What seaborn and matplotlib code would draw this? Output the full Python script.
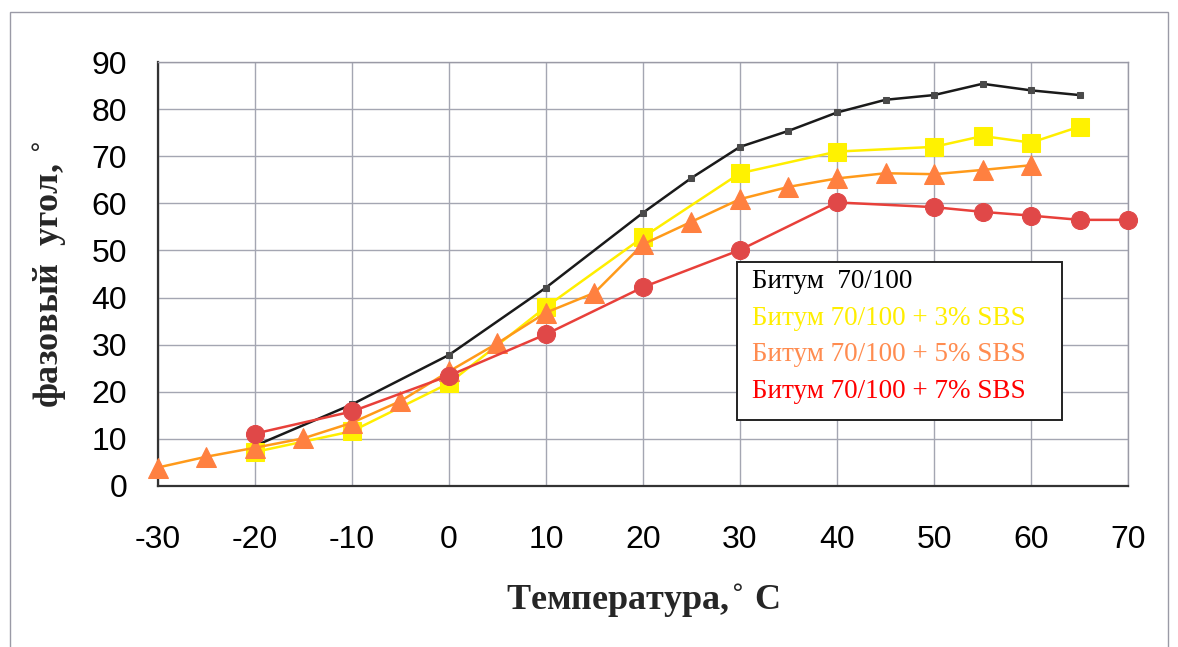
import matplotlib
matplotlib.use("Agg")
import matplotlib.pyplot as plt
import numpy as np
import pandas as pd
import seaborn as sns
from matplotlib.patches import Rectangle

# --- data ---
temp_base = [-20, -10, 0, 10, 20, 25, 30, 35, 40, 45, 50, 55, 60, 65]
angle_base = [8.5, 17.3, 27.8, 42.1, 58.0, 65.4, 72.0, 75.4, 79.3, 82.0, 83.0, 85.4, 84.0, 83.0]

temp_sbs3 = [-20, -10, 0, 10, 20, 30, 40, 50, 55, 60, 65]
angle_sbs3 = [7.2, 11.6, 21.8, 38.0, 52.8, 66.4, 71.0, 72.0, 74.3, 72.9, 76.3]

temp_sbs5 = [-30, -25, -20, -15, -10, -5, 0, 5, 10, 15, 20, 25, 30, 35, 40, 45, 50, 55, 60]
angle_sbs5 = [3.9, 6.2, 8.1, 10.1, 13.4, 18.0, 24.3, 30.3, 36.8, 41.0, 51.3, 56.1, 60.9, 63.5,
              65.3, 66.4, 66.2, 67.1, 68.1]

temp_sbs7 = [-20, -10, 0, 10, 20, 30, 40, 50, 55, 60, 65, 70]
angle_sbs7 = [11.1, 15.8, 23.4, 32.2, 42.2, 50.1, 60.2, 59.2, 58.2, 57.4, 56.5, 56.5]

labels = ["Битум  70/100", "Битум 70/100 + 3% SBS",
          "Битум 70/100 + 5% SBS", "Битум 70/100 + 7% SBS"]
line_colors = ["#1a1a1a", "#ffee00", "#ff9a1a", "#e8403a"]
marker_colors = ["#4a4a4a", "#fff200", "#ff8040", "#e04848"]
text_colors = ["#000000", "#ffee00", "#ff8c50", "#ff0000"]
markers = ["s", "s", "^", "o"]
marker_sizes = [5, 13, 14, 13]

x_ticks = list(range(-30, 71, 10))
y_ticks = list(range(0, 91, 10))

sns.set_theme(style="white")
plt.rcParams["font.family"] = ["Liberation Sans", "DejaVu Sans"]
plt.rcParams["axes.unicode_minus"] = False
serif = ["Liberation Serif", "DejaVu Serif"]

fig = plt.figure(figsize=(11.78, 6.47), dpi=100)
ax = fig.add_axes([0.134, 0.249, 0.8236, 0.655])

series = [(temp_base, angle_base), (temp_sbs3, angle_sbs3),
          (temp_sbs5, angle_sbs5), (temp_sbs7, angle_sbs7)]
for i, (t, a) in enumerate(series):
    df = pd.DataFrame({"t": t, "a": a})
    sns.lineplot(data=df, x="t", y="a", ax=ax, color=line_colors[i], lw=1.8,
                 marker=markers[i], markersize=marker_sizes[i],
                 markerfacecolor=marker_colors[i], markeredgecolor=marker_colors[i],
                 zorder=3 + i, clip_on=False)

ax.set_xlim(-30, 70)
ax.set_ylim(0, 90)
ax.set_xticks(x_ticks)
ax.set_yticks(y_ticks)
ax.tick_params(axis="both", labelsize=23, direction="out", length=10, width=1,
               color="#555555", labelcolor="black")
ax.tick_params(axis="x", pad=18)
ax.tick_params(axis="y", pad=12)
ax.grid(True, color="#a4a6b2", lw=1.0)
ax.set_axisbelow(True)
for side in ["left", "bottom"]:
    ax.spines[side].set_color("#333333")
    ax.spines[side].set_linewidth(1.6)
for side in ["top", "right"]:
    ax.spines[side].set_color("#9a9aa6")
    ax.spines[side].set_linewidth(1.0)

ax.set_xlabel("Температура,$^{\\circ}$ C", fontsize=26, fontweight="bold",
              family=serif, labelpad=20)
ax.set_ylabel("фазовый  угол, $^{\\circ}$", fontsize=26, fontweight="bold",
              family=serif, labelpad=16)

# legend box with coloured text only
ax.add_patch(Rectangle((0.597, 0.156), 0.335, 0.372, transform=ax.transAxes,
                       facecolor="white", edgecolor="#222222", lw=1.4, zorder=10))
for i, lab in enumerate(labels):
    ax.text(0.612, 0.483 - i * 0.087, lab, transform=ax.transAxes, color=text_colors[i],
            fontsize=19.5, family=serif, va="center", zorder=11)

# thin outer frame around the picture
fig.patches.append(Rectangle((10 / 1178, -0.01), 1158 / 1178, 1 - 12 / 647 + 0.01,
                             transform=fig.transFigure, fill=False,
                             edgecolor="#9a9aa6", lw=1.0))

fig.savefig("out.png", dpi=100)
